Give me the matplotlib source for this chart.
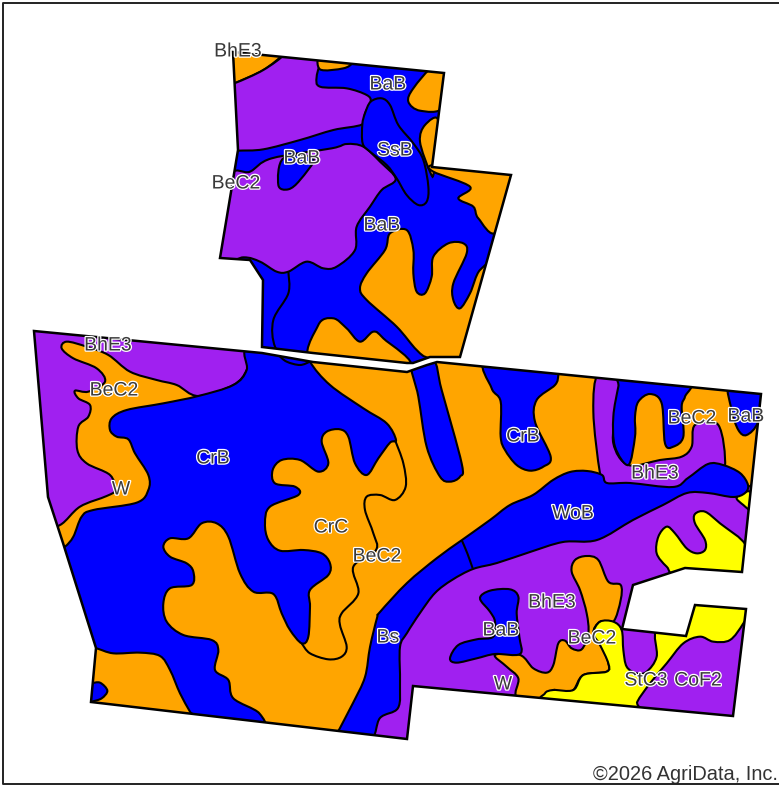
import matplotlib
matplotlib.use("Agg")
import matplotlib.pyplot as plt
import matplotlib.patheffects as pe
from matplotlib.patches import PathPatch
from matplotlib.path import Path

ORANGE = "#FFA500"
BLUE = "#0000FF"
PURPLE = "#A020F0"
YELLOW = "#FFFF00"

TOP = (200, 30)
LEFT = (20, 320)
RIGHT = (380, 350)
FULL = (0, 0)

# field boundaries, in picture pixels
upper_field = [(233, 52), (444, 73), (432, 167), (511, 175), (460, 357), (430, 357), (413, 363),
               (407, 363), (313, 353), (262, 347), (263, 280), (250, 260), (220, 258), (238, 150)]
lower_field = [(34, 331), (262, 353), (313, 362), (407, 372), (427, 365), (437, 362),
               (761, 394), (742, 572), (685, 568), (633, 585), (622, 629), (686, 636), (695, 605),
               (746, 609), (733, 716), (413, 686), (407, 739), (91, 702), (96, 648), (63, 543),
               (48, 497)]

# upper field soils
up_orange_corner = [(90, 40), (250, 50), (250, 72), (190, 120), (108, 158), (80, 170)]
up_purple_top = [(90, 158), (108, 158), (190, 120), (255, 72), (255, 50), (370, 60), (365, 85), (350, 140),
                 (360, 170), (440, 175), (500, 195), (512, 215), (495, 250), (487, 283), (400, 300),
                 (300, 330), (190, 358), (115, 362), (90, 365)]
up_orange_small = [(365, 70), (455, 80), (458, 98), (430, 115), (360, 118)]
up_orange_right = [(700, 110), (750, 120), (730, 232), (660, 242), (625, 215), (640, 175)]
up_orange_sliver = [(715, 272), (702, 425), (690, 425), (660, 335), (675, 285)]
up_ssb = [(512, 215), (545, 205), (570, 225), (595, 285), (640, 340), (670, 390), (685, 470),
          (680, 515), (655, 525), (620, 495), (590, 445), (560, 405), (510, 365), (488, 340),
          (487, 283), (495, 250)]
up_purple_low = [(85, 445), (150, 425), (215, 385), (395, 355), (440, 342), (490, 350), (540, 395),
                 (587, 447), (545, 480), (510, 530), (470, 590), (465, 660), (410, 710), (370, 715),
                 (320, 695), (265, 725), (230, 725), (180, 695), (130, 682), (40, 695)]
up_bab_spot = [(250, 385), (340, 385), (300, 450), (265, 478), (235, 465)]
up_orange_big = [(570, 610), (620, 600), (640, 660), (640, 730), (650, 785), (675, 790), (695, 740),
                 (700, 680), (745, 640), (790, 640), (800, 670), (760, 760), (760, 810), (780, 835),
                 (810, 790), (840, 720), (890, 710), (800, 1000), (690, 985), (650, 960), (590, 890),
                 (500, 810), (480, 775), (500, 730), (555, 660)]
up_orange_east = [(697, 405), (700, 425), (810, 470), (775, 505), (820, 530), (835, 565), (890, 605),
                  (950, 430), (800, 400)]
up_orange_road = [(340, 1000), (355, 885), (400, 865), (440, 895), (480, 935), (520, 905), (550, 925),
                  (625, 1010)]
up_line = [(265, 725), (265, 790), (220, 870), (225, 950), (270, 1000)]

# lower field soils
lo_purple_west = [(20, 10), (700, 60), (685, 98), (680, 150), (640, 195), (535, 228), (470, 195),
                  (410, 180), (330, 155), (265, 105), (200, 80), (140, 65), (125, 85), (160, 115),
                  (230, 145), (255, 185), (205, 215), (165, 212), (175, 235), (210, 255), (205, 290),
                  (175, 320), (172, 390), (200, 430), (270, 465), (285, 510), (260, 528), (180, 560),
                  (120, 615), (60, 620), (0, 300)]
lo_blue_main = [(685, 80), (680, 150), (640, 195), (535, 228), (430, 250), (320, 270), (275, 295),
                (270, 330), (290, 350), (325, 358), (345, 400), (385, 465), (385, 510), (350, 548),
                (220, 570), (185, 590), (160, 650), (135, 680), (100, 700), (190, 1010), (190, 1200),
                (520, 1210), (720, 1230), (718, 1180), (640, 1135), (625, 1080), (585, 1050),
                (595, 990), (575, 960), (490, 945), (440, 905), (430, 850), (450, 805), (515, 795),
                (520, 755), (500, 730), (450, 710), (430, 680), (450, 655), (505, 655), (545, 610),
                (590, 610), (625, 650), (660, 760), (700, 815), (760, 822), (785, 880), (810, 930),
                (845, 970), (865, 950), (870, 860), (870, 810), (925, 765), (930, 730), (905, 700),
                (850, 690), (780, 692), (745, 660), (735, 610), (750, 560), (835, 525), (825, 500),
                (765, 490), (758, 450), (785, 420), (840, 420), (895, 455), (925, 430), (905, 365),
                (920, 335), (960, 328), (985, 350), (1005, 430), (1040, 465), (1075, 415), (1110, 368),
                (1128, 360), (1100, 310), (1030, 265), (930, 195), (870, 125), (850, 60)]
lo_orange_sw = [(228, 985), (280, 1000), (360, 998), (420, 1008), (450, 1050), (480, 1120), (510, 1175),
                (530, 1210), (190, 1200), (190, 985)]
lo_blue_corner = [(212, 1090), (240, 1088), (262, 1112), (245, 1135), (215, 1145), (195, 1150), (195, 1090)]
lo_line_crc = [(1125, 360), (1150, 430), (1157, 500), (1125, 540), (1080, 525), (1040, 530), (1035, 570),
               (1060, 640), (1068, 690), (1000, 740), (1015, 820), (965, 880), (960, 915), (980, 980),
               (965, 1010), (925, 1018), (870, 1000), (845, 970)]
lo_line_road = [(775, 105), (800, 125), (840, 135), (870, 125)]
lo_blue_stripe = [(95, 40), (160, 30), (185, 120), (245, 340), (240, 380), (210, 395), (180, 380),
                  (140, 290), (115, 140)]
lo_crb = [(320, 30), (535, 50), (535, 75), (525, 105), (470, 150), (465, 215), (512, 320), (490, 350),
          (450, 362), (410, 345), (375, 300), (362, 260), (362, 155), (335, 115)]
lo_purple_south = [(-30, 1116), (-45, 1195), (100, 1250), (1200, 1200), (1200, 420), (1100, 410),
                   (1000, 390), (800, 440), (500, 510), (250, 620), (120, 760), (20, 880), (0, 1000)]
lo_purple_north = [(655, 70), (725, 80), (710, 180), (700, 280), (745, 345), (840, 330), (905, 320),
                   (935, 290), (945, 225), (1015, 225), (1035, 350), (1000, 400), (680, 420), (660, 370),
                   (640, 185)]
lo_blue_u = [(725, 70), (925, 90), (915, 140), (905, 170), (910, 260), (880, 290), (855, 280), (845, 160),
             (810, 132), (775, 155), (765, 200), (765, 260), (745, 345), (705, 290), (700, 200), (715, 110)]
lo_bab_corner = [(1050, 100), (1160, 110), (1135, 215), (1100, 255), (1075, 240), (1055, 180)]
lo_orange_south = [(345, 915), (420, 915), (460, 955), (500, 968), (520, 945), (535, 880), (555, 872),
                   (575, 895), (605, 898), (625, 850), (620, 790), (600, 720), (575, 665), (585, 630),
                   (620, 618), (655, 630), (685, 695), (722, 705), (722, 750), (700, 815), (660, 815),
                   (640, 850), (668, 895), (685, 940), (680, 965), (610, 975), (580, 1020), (545, 1030),
                   (520, 1020), (490, 1045), (410, 1040), (415, 985), (380, 950)]
lo_yellow_south = [(660, 815), (700, 815), (725, 840), (730, 900), (740, 950), (770, 970), (800, 965),
                   (830, 920), (830, 840), (917, 840), (945, 750), (1120, 760), (1090, 820), (1050, 870),
                   (1000, 875), (960, 860), (910, 880), (860, 940), (810, 1000), (772, 1055), (765, 1090),
                   (500, 1060), (495, 1030), (520, 1020), (580, 1020), (610, 975), (680, 965), (685, 940),
                   (660, 885), (640, 850)]
lo_yellow_east = [(835, 560), (860, 530), (885, 550), (920, 595), (950, 610), (975, 600), (975, 570),
                  (945, 520), (945, 492), (975, 485), (1020, 520), (1100, 590), (1100, 690), (900, 680),
                  (860, 650), (830, 610)]
lo_yellow_tiny = [(1070, 442), (1110, 425), (1115, 480), (1090, 465)]
lo_bab_blob = [(300, 745), (330, 722), (390, 718), (415, 740), (410, 790), (418, 860), (420, 912), (345, 912),
               (290, 925), (230, 938), (210, 925), (235, 885), (290, 868), (340, 860), (345, 815), (330, 785)]
# the WoB / Bs band runs across the two lower crops, so it is in picture pixels
lo_band = [(380, 612), (407, 583), (437, 558), (462, 540), (490, 520), (510, 505), (533, 495), (553, 480),
           (570, 472), (587, 471), (602, 475), (607, 483), (630, 483), (673, 487), (688, 478), (708, 464),
           (723, 465), (740, 473), (748, 485), (745, 493), (733, 497), (708, 493), (687, 493), (663, 505),
           (633, 520), (597, 540), (563, 542), (530, 552), (497, 563), (473, 569), (452, 580), (435, 593),
           (420, 613), (407, 633), (400, 647), (400, 683), (398, 708), (380, 718), (370, 740), (335, 740),
           (340, 728), (353, 703), (365, 677), (370, 647), (377, 618)]
lo_band_divider = [(245, 570), (262, 610), (278, 655)]

soil_labels = ["BhE3", "BaB", "BaB", "SsB", "BeC2", "BaB", "BhE3", "BeC2", "CrB", "W", "CrC", "BeC2",
               "Bs", "CrB", "BeC2", "BaB", "BhE3", "WoB", "BhE3", "BaB", "BeC2", "W", "StC3", "CoF2"]
label_x = [238, 388, 302, 395, 236, 382, 108, 114, 213, 121, 331, 377,
           388, 523, 692, 746, 655, 573, 552, 501, 592, 503, 646, 698]
label_y = [52, 85, 159, 151, 184, 226, 346, 391, 459, 490, 528, 557,
           638, 437, 419, 417, 474, 514, 603, 631, 639, 685, 681, 681]


def to_px(origin, pts):
    return [(origin[0] + x / 3, origin[1] + y / 3) for x, y in pts]


def smooth_path(pts, closed=True):
    # cubic curves that pass through the outline points
    n = len(pts)
    verts = [pts[0]]
    codes = [Path.MOVETO]
    last = n if closed else n - 1
    for i in range(last):
        if closed:
            p0, p1, p2, p3 = pts[i - 1], pts[i], pts[(i + 1) % n], pts[(i + 2) % n]
        else:
            p0, p1, p2, p3 = pts[max(i - 1, 0)], pts[i], pts[i + 1], pts[min(i + 2, n - 1)]
        verts += [(p1[0] + (p2[0] - p0[0]) / 6, p1[1] + (p2[1] - p0[1]) / 6),
                  (p2[0] - (p3[0] - p1[0]) / 6, p2[1] - (p3[1] - p1[1]) / 6),
                  p2]
        codes += [Path.CURVE4, Path.CURVE4, Path.CURVE4]
    return Path(verts, codes)


fig = plt.figure(figsize=(7.79, 7.85), dpi=100)
ax = fig.add_axes([0, 0, 1, 1])
ax.set_xlim(0, 779)
ax.set_ylim(785, 0)
ax.axis("off")

LW = 1.5


def draw_field(field, base, layers, lines):
    clip = PathPatch(Path(field + field[:1], closed=True), fc=base, ec="none", zorder=1)
    ax.add_patch(clip)
    z = 2
    for origin, pts, color in layers:
        p = PathPatch(smooth_path(to_px(origin, pts)), fc=color, ec="black", lw=LW, zorder=z)
        ax.add_patch(p)
        p.set_clip_path(clip)
        z += 1
    for origin, pts in lines:
        p = PathPatch(smooth_path(to_px(origin, pts), closed=False), fc="none", ec="black", lw=LW, zorder=z)
        ax.add_patch(p)
        p.set_clip_path(clip)
    ax.add_patch(PathPatch(Path(field + field[:1], closed=True), fc="none", ec="black", lw=1.8,
                           joinstyle="miter", zorder=20))


draw_field(upper_field, BLUE, [
    (TOP, up_orange_corner, ORANGE),
    (TOP, up_purple_top, PURPLE),
    (TOP, up_orange_small, ORANGE),
    (TOP, up_orange_right, ORANGE),
    (TOP, up_orange_sliver, ORANGE),
    (TOP, up_purple_low, PURPLE),
    (TOP, up_bab_spot, BLUE),
    (TOP, up_ssb, BLUE),
    (TOP, up_orange_big, ORANGE),
    (TOP, up_orange_east, ORANGE),
    (TOP, up_orange_road, ORANGE),
], [(TOP, up_line)])

draw_field(lower_field, ORANGE, [
    (LEFT, lo_purple_west, PURPLE),
    (LEFT, lo_blue_main, BLUE),
    (LEFT, lo_orange_sw, ORANGE),
    (LEFT, lo_blue_corner, BLUE),
    (RIGHT, lo_blue_stripe, BLUE),
    (RIGHT, lo_crb, BLUE),
    (RIGHT, lo_purple_south, PURPLE),
    (RIGHT, lo_purple_north, PURPLE),
    (RIGHT, lo_blue_u, BLUE),
    (RIGHT, lo_bab_corner, BLUE),
    (RIGHT, lo_orange_south, ORANGE),
    (RIGHT, lo_yellow_south, YELLOW),
    (RIGHT, lo_yellow_east, YELLOW),
    (RIGHT, lo_yellow_tiny, YELLOW),
    (RIGHT, lo_bab_blob, BLUE),
    (FULL, [(x * 3, y * 3) for x, y in lo_band], BLUE),
], [(LEFT, lo_line_crc), (LEFT, lo_line_road), (RIGHT, lo_band_divider)])

for name, x, y in zip(soil_labels, label_x, label_y):
    ax.text(x, y, name, ha="center", va="center", fontsize=14, color="#3a3a3a",
            family="Liberation Sans", zorder=30,
            path_effects=[pe.withStroke(linewidth=1.8, foreground="white")])

ax.text(778, 775, "©2026 AgriData, Inc.", ha="right", va="center", fontsize=14.4, color="#333333",
        family="Liberation Sans", zorder=30)

# map frame, open on the right like the crop
ax.plot([779, 3, 3, 779], [3, 3, 784, 784], color="#222222", lw=1.4, zorder=31, clip_on=False)

fig.savefig("out.png", dpi=100)
